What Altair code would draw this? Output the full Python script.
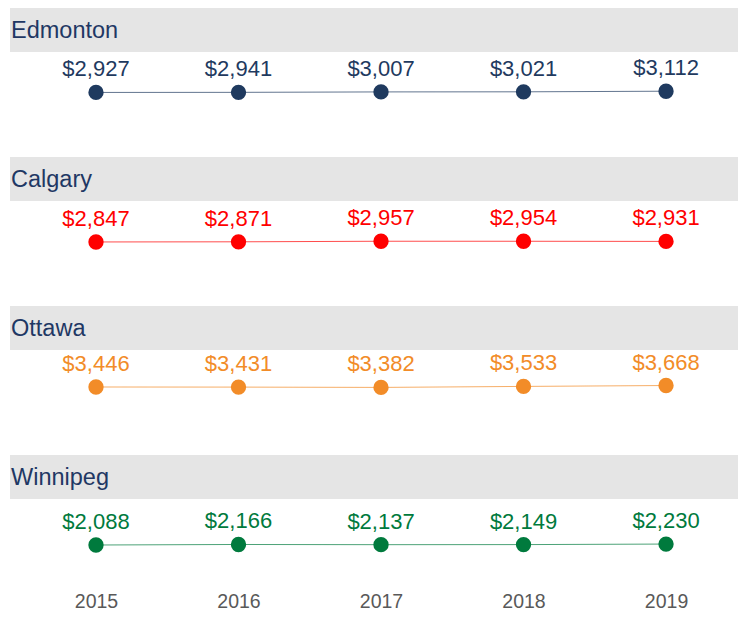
import altair as alt
import pandas as pd

years = [2015, 2016, 2017, 2018, 2019]
cities = ["Edmonton", "Calgary", "Ottawa", "Winnipeg"]
edmonton = [2927, 2941, 3007, 3021, 3112]
calgary = [2847, 2871, 2957, 2954, 2931]
ottawa = [3446, 3431, 3382, 3533, 3668]
winnipeg = [2088, 2166, 2137, 2149, 2230]
colors = ["#1F3A5F", "#FF0000", "#F28C28", "#007A3D"]

series = {"Edmonton": edmonton, "Calgary": calgary, "Ottawa": ottawa, "Winnipeg": winnipeg}
rows = []
for c in cities:
    for y, v in zip(years, series[c]):
        rows.append({"city": c, "year": y, "value": v})
df = pd.DataFrame(rows)

W = 730
H = 132

x = alt.X("year:Q",
          scale=alt.Scale(domain=[2014.3825, 2019.505], nice=False, zero=False),
          axis=alt.Axis(values=years, format="d", title=None, grid=False, domain=False,
                        ticks=False, labelFontSize=19.5, labelColor="#595959",
                        labelPadding=5, labelFont="Liberation Sans"))
y = alt.Y("value:Q", scale=alt.Scale(domain=[-4247, 15663], nice=False, zero=False), axis=None)
color = alt.Color("city:N", scale=alt.Scale(domain=cities, range=colors), legend=None)

base = alt.Chart(df)

band = base.transform_filter("datum.year == 2015").mark_rect(color="#E5E5E5").encode(
    x=alt.value(2), x2=alt.value(W), y=alt.value(0), y2=alt.value(44))
name = base.transform_filter("datum.year == 2015").mark_text(
    align="left", baseline="middle", fontSize=23.5, color="#1F3864", font="Liberation Sans"
).encode(x=alt.value(3), y=alt.value(23), text="city:N")
line = base.mark_line(strokeWidth=1, opacity=0.7).encode(x=x, y=y, color=color)
pts = base.mark_point(filled=True, size=235, opacity=1).encode(x=x, y=y, color=color)
lbl = base.mark_text(dy=-23, fontSize=22, baseline="middle", font="Liberation Sans").encode(
    x=x, y=y, color=color, text=alt.Text("value:Q", format="$,.0f"))

chart = alt.layer(band, name, line, pts, lbl).properties(width=W, height=H).facet(
    row=alt.Row("city:N", sort=cities, title=None, header=alt.Header(labels=False)),
    spacing=17
).properties(
    padding={"left": 0, "top": 0, "right": 0, "bottom": 0}
).configure(
    font="Liberation Sans",
    view=alt.ViewConfig(stroke="transparent", strokeWidth=0)
)

chart.save("out.html", embed_options={"renderer": "svg", "actions": False})
